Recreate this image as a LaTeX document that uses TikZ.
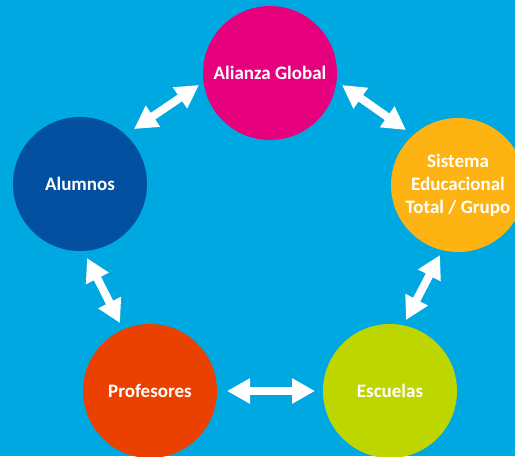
\documentclass[tikz,border=0pt]{standalone}
\usepackage{fontspec}
\setmainfont{Carlito}
\usetikzlibrary{arrows.meta,calc}
\definecolor{bgblue}{RGB}{0,168,225}
\definecolor{cpink}{RGB}{230,0,126}
\definecolor{cdblue}{RGB}{4,80,160}
\definecolor{corange}{RGB}{253,180,18}
\definecolor{cred}{RGB}{234,64,0}
\definecolor{clime}{RGB}{190,214,0}
\tikzset{
  bubble/.style={circle, minimum size=134pt, inner sep=0pt, draw=none, text=white,
    font=\fontsize{19}{23}\selectfont\bfseries, align=center},
  blockarrow/.style={white, line width=8pt,
    {Triangle[length=23pt,width=24pt]}-{Triangle[length=23pt,width=24pt]}}
}
\begin{document}
\begin{tikzpicture}[x=1pt,y=-1pt]
\fill[bgblue] (0,0) rectangle (515,456);
\useasboundingbox (0,0) rectangle (515,456);
\node[bubble, fill=cpink] (alianza) at (270,73) {Alianza Global};
\node[bubble, fill=cdblue] (alumnos) at (80,184) {Alumnos};
\node[bubble, fill=corange] (sistema) at (458,185) {Sistema\\Educacional\\Total / Grupo};
\node[bubble, fill=cred] (profesores) at (150,391) {Profesores};
\node[bubble, fill=clime] (escuelas) at (390,391) {Escuelas};
\draw[blockarrow] ($(alumnos.center)+(-45.5:77)$) -- ($(alianza.center)+(-189.6:72)$);
\draw[blockarrow] ($(alianza.center)+(9.5:73)$) -- ($(sistema.center)+(-133.4:75.7)$);
\draw[blockarrow] ($(alumnos.center)+(84.6:74.3)$) -- ($(profesores.center)+(-113.8:74.3)$);
\draw[blockarrow] ($(sistema.center)+(104.4:72.3)$) -- ($(escuelas.center)+(-77.3:72.8)$);
\draw[blockarrow] ($(profesores.center)+(0:77)$) -- ($(escuelas.center)+(180:75)$);
\end{tikzpicture}
\end{document}
